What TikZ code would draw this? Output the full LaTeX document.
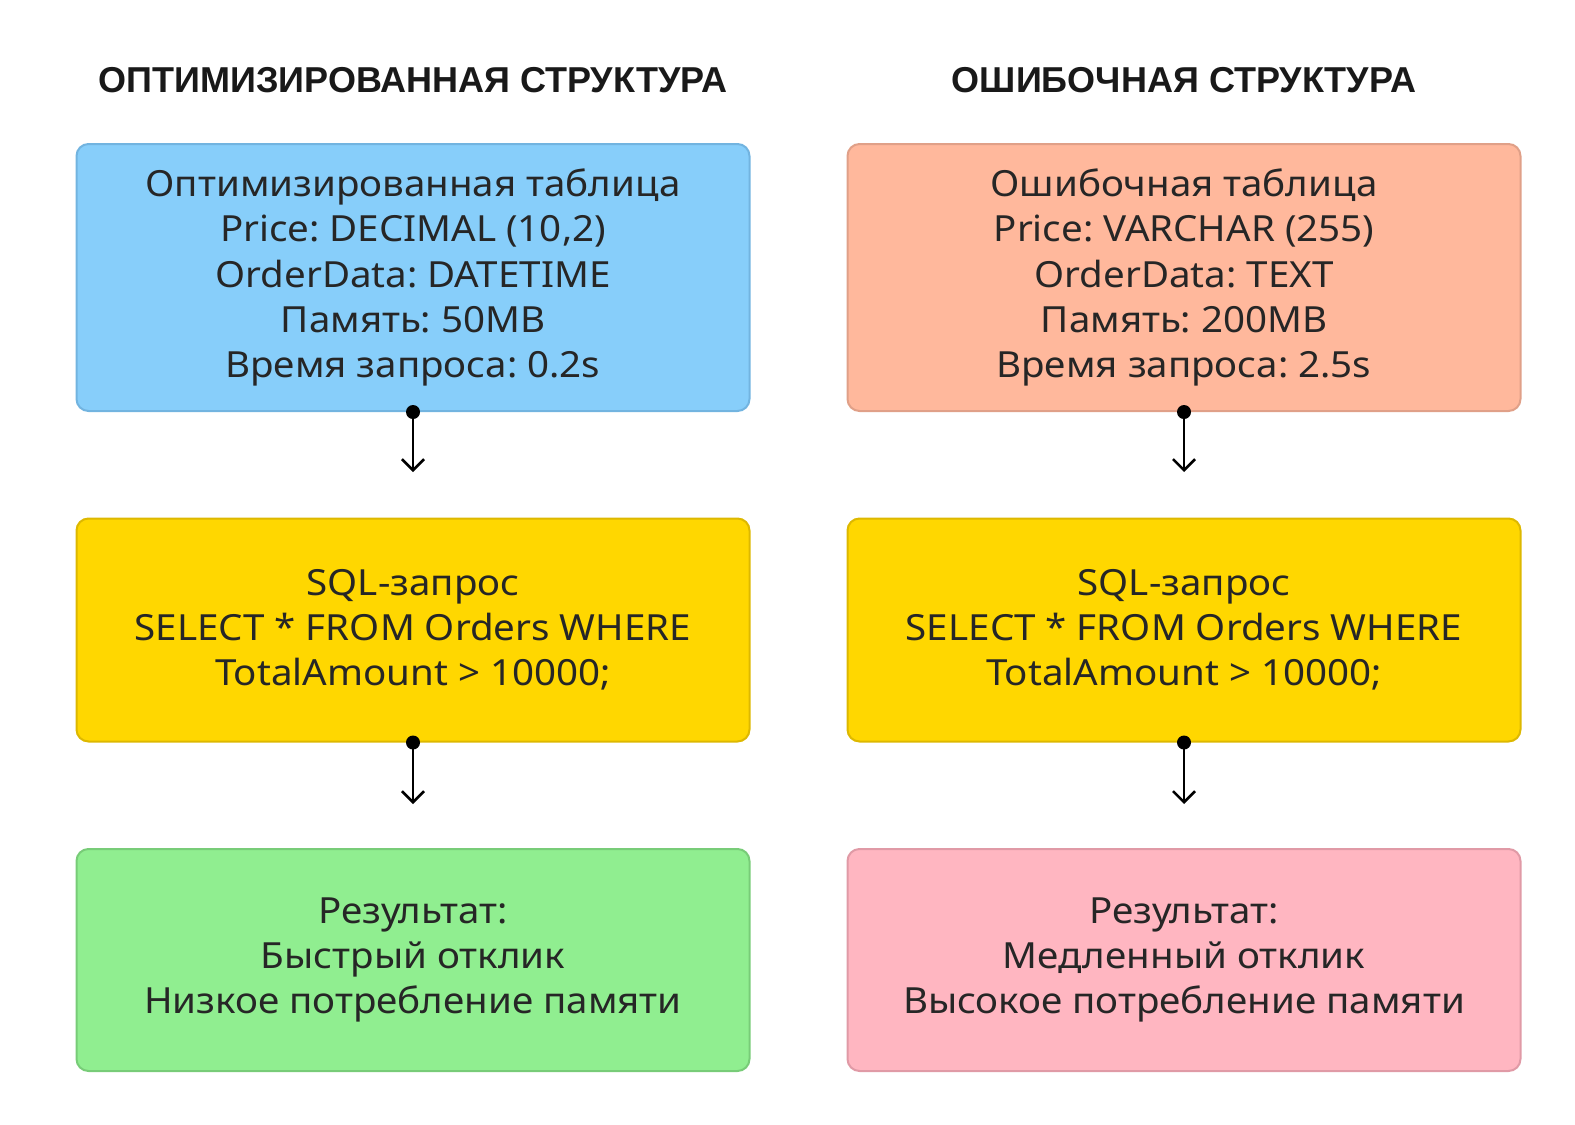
\documentclass[tikz,border=0pt]{standalone}
\usepackage{fontspec}
\setmainfont{Noto Sans}[FakeStretch=1.07]
\newfontfamily\headfont{Liberation Sans}
\usetikzlibrary{arrows.meta}
\definecolor{optblue}{HTML}{87CEFA}
\definecolor{optblueline}{HTML}{72B4E0}
\definecolor{errsalmon}{HTML}{FFB89C}
\definecolor{errsalmonline}{HTML}{E0A088}
\definecolor{querygold}{HTML}{FFD700}
\definecolor{querygoldline}{HTML}{DDB800}
\definecolor{resgreen}{HTML}{90EE90}
\definecolor{resgreenline}{HTML}{78CC78}
\definecolor{respink}{HTML}{FFB6C1}
\definecolor{respinkline}{HTML}{E09AA6}
\tikzset{
  block/.style={rectangle, rounded corners=12pt, line width=2pt,
    minimum width=673pt, align=center, text=black!85,
    font=\fontsize{36}{45.2}\selectfont},
  heading/.style={font=\headfont\fontsize{36}{40}\selectfont\bfseries, text=black!90},
  flow/.style={line width=2.6pt, -{Straight Barb[length=11pt,width=22pt,line width=2.6pt]}},
  dot/.style={fill=black}
}
\frenchspacing
\begin{document}
\begin{tikzpicture}[x=1pt,y=-1pt]
\useasboundingbox (0,0) rectangle (1575,1125);
% headings
\node[heading] (hopt) at (413,80.5) {ОПТИМИЗИРОВАННАЯ СТРУКТУРА};
\node[heading] (herr) at (1184,80.5) {ОШИБОЧНАЯ СТРУКТУРА};
% left column
\node[block, fill=optblue, draw=optblueline, minimum height=267pt] (opt) at (413,277.5)
  {Оптимизированная таблица\\Price: DECIMAL (10,2)\\OrderData: DATETIME\\Память: 50MB\\Время запроса: 0.2s};
\node[block, fill=querygold, draw=querygoldline, minimum height=223pt] (qopt) at (413,630)
  {SQL-запрос\\SELECT * FROM Orders WHERE\\TotalAmount > 10000;};
\node[block, fill=resgreen, draw=resgreenline, minimum height=222pt] (ropt) at (413,960)
  {Результат:\\Быстрый отклик\\Низкое потребление памяти};
% right column
\node[block, fill=errsalmon, draw=errsalmonline, minimum height=267pt] (err) at (1184,277.5)
  {Ошибочная таблица\\Price: VARCHAR (255)\\OrderData: TEXT\\Память: 200MB\\Время запроса: 2.5s};
\node[block, fill=querygold, draw=querygoldline, minimum height=223pt] (qerr) at (1184,630)
  {SQL-запрос\\SELECT * FROM Orders WHERE\\TotalAmount > 10000;};
\node[block, fill=respink, draw=respinkline, minimum height=222pt] (rerr) at (1184,960)
  {Результат:\\Медленный отклик\\Высокое потребление памяти};
% arrows
\coordinate (aopt1) at (413,472);
\coordinate (aopt2) at (413,804);
\coordinate (aerr1) at (1184,472);
\coordinate (aerr2) at (1184,804);
\draw[flow] (opt.south) -- (aopt1);
\draw[flow] (qopt.south) -- (aopt2);
\draw[flow] (err.south) -- (aerr1);
\draw[flow] (qerr.south) -- (aerr2);
\fill[dot] (opt.south) circle (7pt);
\fill[dot] (qopt.south) circle (7pt);
\fill[dot] (err.south) circle (7pt);
\fill[dot] (qerr.south) circle (7pt);
\end{tikzpicture}
\end{document}
